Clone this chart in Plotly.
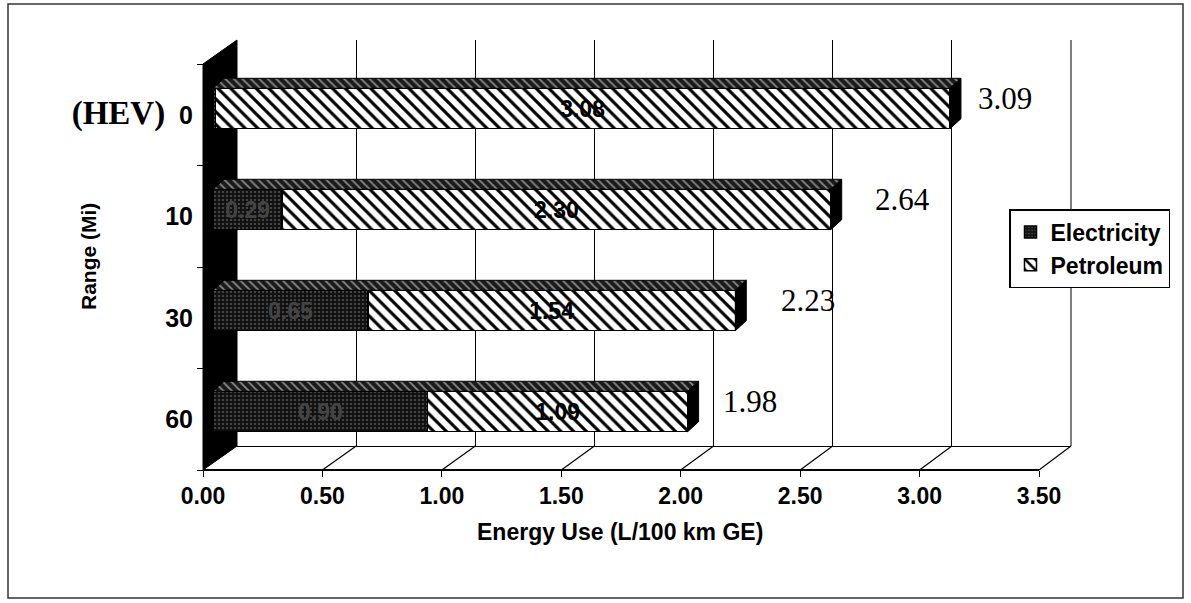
import plotly.graph_objects as go

# ---------------- data ----------------
categories = ["(HEV) 0", "10", "30", "60"]
electricity = [0.01, 0.29, 0.65, 0.90]
petroleum = [3.08, 2.30, 1.54, 1.09]
total_labels = [3.09, 2.64, 2.23, 1.98]
x_ticks = [0.0, 0.5, 1.0, 1.5, 2.0, 2.5, 3.0, 3.5]

# ---------------- geometry helpers (pixels -> paper) ----------------
W, H = 1191, 603
def px(x):
    return x / W
def py(y):
    return 1 - y / H

X_BACK = (237, 1071); Y_BACK = (40, 446)     # back wall
X_FRONT = (203, 1039); Y_FRONT = (64, 470)   # front axes
X_BAR = (213, 213 + 3.5 * 238.5); Y_BAR = (58, 462)  # bar front faces
X_LBL = (268, 268 + 3.5 * 229)               # depth plane of the total labels
XMAX = 3.5

pos = list(range(len(categories)))
half = 0.2
dx = 11 / 238.5          # depth offset in value units
dy = 10 / 101            # depth offset in category units

ARIAL = "Liberation Sans"
TIMES = "Liberation Serif"

fig = go.Figure()

# dummy traces so the back-wall, front-axis and label subplots exist
fig.add_trace(go.Scatter(x=[0, XMAX], y=[0, 1], xaxis="x", yaxis="y", mode="markers",
                         marker=dict(opacity=0), showlegend=False, hoverinfo="skip"))
fig.add_trace(go.Scatter(x=[0] * len(pos), y=pos, xaxis="x2", yaxis="y2", mode="markers",
                         marker=dict(opacity=0), showlegend=False, hoverinfo="skip"))
fig.add_trace(go.Scatter(x=total_labels, y=pos, xaxis="x4", yaxis="y3", mode="markers",
                         marker=dict(opacity=0), showlegend=False, hoverinfo="skip"))

# bars (front faces)
elec_text = [f"{v:.2f}" if v > 0.1 else "" for v in electricity]
fig.add_trace(go.Bar(
    name="Electricity", y=pos, x=electricity, orientation="h", width=0.4,
    xaxis="x3", yaxis="y3",
    marker=dict(color="#121212", line=dict(color="black", width=1.5),
                pattern=dict(shape=".", fgcolor="#555555", bgcolor="#121212",
                             size=4, solidity=0.2, fillmode="replace")),
    text=elec_text, textposition="inside", insidetextanchor="middle",
    textangle=0, constraintext="none",
    textfont=dict(family=ARIAL, size=23, color="#444444", weight="bold"),
    hoverinfo="skip"))
fig.add_trace(go.Bar(
    name="Petroleum", y=pos, x=petroleum, orientation="h", width=0.4,
    xaxis="x3", yaxis="y3",
    marker=dict(color="black", line=dict(color="black", width=1.5),
                pattern=dict(shape="\\", fgcolor="black", bgcolor="white",
                             size=9, solidity=0.35, fillmode="replace")),
    text=[f"{v:.2f}" for v in petroleum], textposition="inside", insidetextanchor="middle",
    textangle=0, constraintext="none",
    textfont=dict(family=ARIAL, size=23, color="black", weight="bold"),
    hoverinfo="skip"))

# 3-D top and side faces derived from the data
top_x, top_y, side_x, side_y = [], [], [], []
for i, e, p in zip(pos, electricity, petroleum):
    t = e + p
    top_x += [0, t, t + dx, dx, 0, None]
    top_y += [i - half, i - half, i - half - dy, i - half - dy, i - half, None]
    side_x += [t, t + dx, t + dx, t, t, None]
    side_y += [i - half, i - half - dy, i + half - dy, i + half, i - half, None]

fig.add_trace(go.Scatter(x=top_x, y=top_y, xaxis="x3", yaxis="y3", mode="lines",
                         fill="toself", fillcolor="#1a1a1a",
                         fillpattern=dict(shape="\\", fgcolor="#8a8a8a", bgcolor="#1a1a1a",
                                          size=6, solidity=0.3),
                         line=dict(color="black", width=1), showlegend=False, hoverinfo="skip"))
fig.add_trace(go.Scatter(x=side_x, y=side_y, xaxis="x3", yaxis="y3", mode="lines",
                         fill="toself", fillcolor="black",
                         line=dict(color="black", width=1), showlegend=False, hoverinfo="skip"))

# ---------------- annotations ----------------
annotations = []
for i, v in zip(pos, total_labels):
    annotations.append(dict(x=v, y=i - 0.1, xref="x4", yref="y3", text=f"{v:.2f}",
                            xanchor="left", yanchor="middle", showarrow=False,
                            font=dict(family=TIMES, size=31, color="black")))
annotations.append(dict(x=px(620), y=py(532), xref="paper", yref="paper",
                        text="Energy Use (L/100 km GE)", showarrow=False,
                        xanchor="center", yanchor="middle",
                        font=dict(family=ARIAL, size=23, color="black", weight="bold")))
annotations.append(dict(x=px(89), y=py(257), xref="paper", yref="paper",
                        text="Range (Mi)", textangle=-90, showarrow=False,
                        xanchor="center", yanchor="middle",
                        font=dict(family=ARIAL, size=21, color="black", weight="bold")))

# ---------------- chrome shapes ----------------
def front_x(v):
    return X_FRONT[0] + v / XMAX * (X_FRONT[1] - X_FRONT[0])
def back_x(v):
    return X_BACK[0] + v / XMAX * (X_BACK[1] - X_BACK[0])

shapes = [
    dict(type="rect", xref="paper", yref="paper", x0=px(8), y0=py(598), x1=px(1183), y1=py(4),
         line=dict(color="#333333", width=1.5), layer="below"),
    dict(type="path", xref="paper", yref="paper", layer="below",
         path=(f"M {px(X_FRONT[0])},{py(Y_FRONT[0])} L {px(X_BACK[0])},{py(Y_BACK[0])} "
               f"L {px(X_BACK[0])},{py(Y_BACK[1])} L {px(X_FRONT[0])},{py(Y_FRONT[1])} Z"),
         fillcolor="black", line=dict(color="black", width=1)),
]
for v in x_ticks[1:]:
    shapes.append(dict(type="line", xref="paper", yref="paper",
                       x0=px(front_x(v)), y0=py(Y_FRONT[1]), x1=px(back_x(v)), y1=py(Y_BACK[1]),
                       line=dict(color="black", width=1.2)))
shapes.append(dict(type="line", xref="paper", yref="paper",
                   x0=px(X_BACK[1]), y0=py(Y_BACK[0]), x1=px(X_BACK[1]), y1=py(Y_BACK[1]),
                   line=dict(color="black", width=1)))

ticktext_y = [c if not c.startswith("(HEV)") else
              f"<span style='font-family:{TIMES};font-size:33px'>(HEV)</span>  0"
              for c in categories]

fig.update_layout(
    template="none",
    width=W, height=H, autosize=False,
    margin=dict(l=0, r=0, t=0, b=0, pad=0, autoexpand=False),
    paper_bgcolor="white", plot_bgcolor="rgba(0,0,0,0)",
    barmode="stack", bargap=0.6,
    showlegend=True,
    legend=dict(x=px(1009), y=py(209), xanchor="left", yanchor="top",
                bordercolor="black", borderwidth=1.5, bgcolor="white",
                font=dict(family=ARIAL, size=23, color="black", weight="bold"),
                traceorder="normal", tracegroupgap=2),
    xaxis=dict(domain=[px(X_BACK[0]), px(X_BACK[1])], range=[0, XMAX], anchor="y",
               showgrid=True, gridcolor="black", gridwidth=1, tickmode="array", tickvals=x_ticks,
               showticklabels=False, ticks="", showline=True, linecolor="black", linewidth=1,
               zeroline=False, fixedrange=True, automargin=False),
    yaxis=dict(domain=[py(Y_BACK[1]), py(Y_BACK[0])], range=[0, 1], visible=False,
               fixedrange=True, automargin=False),
    xaxis2=dict(domain=[px(X_FRONT[0]), px(X_FRONT[1])], range=[0, XMAX], anchor="free",
                position=py(Y_FRONT[1]), showline=True, linecolor="black", linewidth=1.5,
                ticks="outside", ticklen=6, tickcolor="black", tickmode="array", tickvals=x_ticks,
                ticktext=[f"{v:.2f}" for v in x_ticks], showgrid=False, zeroline=False,
                tickfont=dict(family=ARIAL, size=23, color="black", weight="bold"),
                fixedrange=True, automargin=False),
    yaxis2=dict(domain=[py(Y_FRONT[1]), py(Y_FRONT[0])], range=[3.5, -0.5], anchor="free",
                position=px(X_FRONT[0]), showline=False, ticks="", tickmode="array",
                tickvals=pos, ticktext=ticktext_y, showgrid=False, zeroline=False,
                ticklabelstandoff=10,
                tickfont=dict(family=ARIAL, size=25, color="black", weight="bold"),
                minor=dict(tickmode="array", tickvals=[-0.5, 0.5, 1.5, 2.5, 3.5], ticks="outside",
                           ticklen=6, tickcolor="black", showgrid=False),
                fixedrange=True, automargin=False),
    xaxis3=dict(domain=[px(X_BAR[0]), px(X_BAR[1])], range=[0, XMAX], anchor="y3",
                visible=False, fixedrange=True, automargin=False),
    yaxis3=dict(domain=[py(Y_BAR[1]), py(Y_BAR[0])], range=[3.5, -0.5], anchor="x3",
                visible=False, fixedrange=True, automargin=False),
    xaxis4=dict(domain=[px(X_LBL[0]), px(X_LBL[1])], range=[0, XMAX], anchor="y3",
                visible=False, fixedrange=True, automargin=False),
    annotations=annotations,
    shapes=shapes,
)

fig.write_html("out.html")
